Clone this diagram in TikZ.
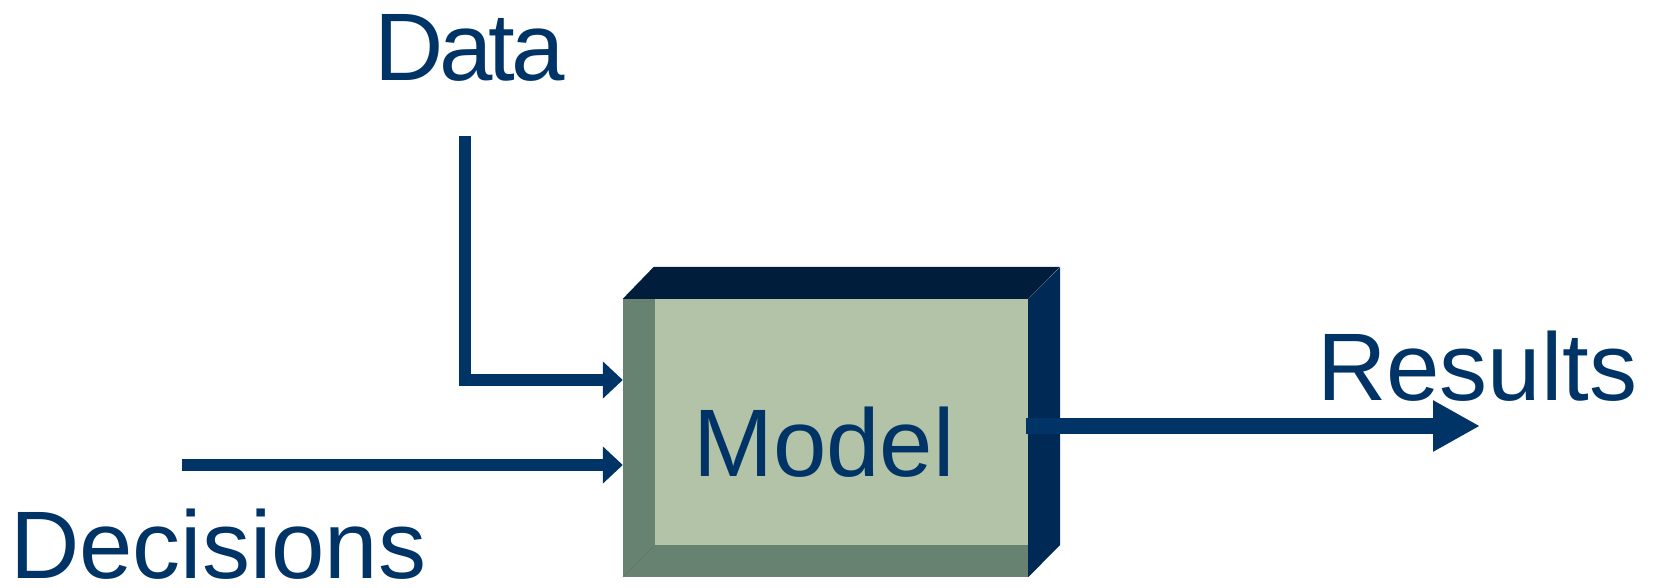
\documentclass[tikz,border=0pt]{standalone}
\usepackage{fontspec}
\setmainfont{Liberation Sans}
\usetikzlibrary{arrows.meta}
\definecolor{navy}{RGB}{0,51,102}
\definecolor{topface}{RGB}{0,30,60}
\definecolor{sideface}{RGB}{0,41,86}
\definecolor{frontface}{RGB}{178,195,168}
\definecolor{bevel}{RGB}{104,130,114}
\tikzset{
  label text/.style={inner sep=0pt, anchor=base west, text=navy,
    font=\fontsize{96}{100}\selectfont},
  flow/.style={draw=navy, line width=12pt, line cap=butt, line join=miter,
    -{Triangle[length=20pt,width=36pt]}},
  outflow/.style={draw=navy, line width=16pt, line cap=butt,
    -{Triangle[length=47pt,width=48pt]}},
  block/.style={inner sep=0pt, minimum width=405pt, minimum height=278pt}
}
\begin{document}
\begin{tikzpicture}[x=1pt,y=-1pt]
\useasboundingbox (0,0) rectangle (1655,587);

% the model block: front face with bevel, top and right faces
\node[block] (model) at (825.5,438) {};
\fill[topface] (model.north west) -- ++(31,-32) -- ++(406,0) -- (model.north east) -- cycle;
\fill[sideface] (model.north east) -- ++(32,-32) -- ++(0,278) -- (model.south east) -- cycle;
\fill[bevel] (model.north west) rectangle (model.south east);
\fill[frontface] ([xshift=32pt]model.north west) rectangle ([yshift=32pt]model.south east);
\draw[bevel!85!black, line width=0.6pt, opacity=0.5] (model.south west) -- ++(32,-32);
\node[label text] (modeltext) at (693,476) {Model};

% labels
\node[label text] (data) at (374,80) {D\kern-4pt a\kern-4pt t\kern-4pt a};
\node[label text] (decisions) at (10,578) {Decisions};
\node[label text] (results) at (1317,400) {Results};

% connectors
\coordinate (dataStart) at (465,136);
\coordinate (decStart) at (182,465);
\coordinate (resStart) at (1026,426);
\coordinate (resEnd) at (1480,426);

\draw[flow] (dataStart) |- (model.west |- 0,380);
\draw[flow] (decStart) -- (model.west |- 0,465);
\draw[outflow] (resStart) -- (resEnd);
\end{tikzpicture}
\end{document}
